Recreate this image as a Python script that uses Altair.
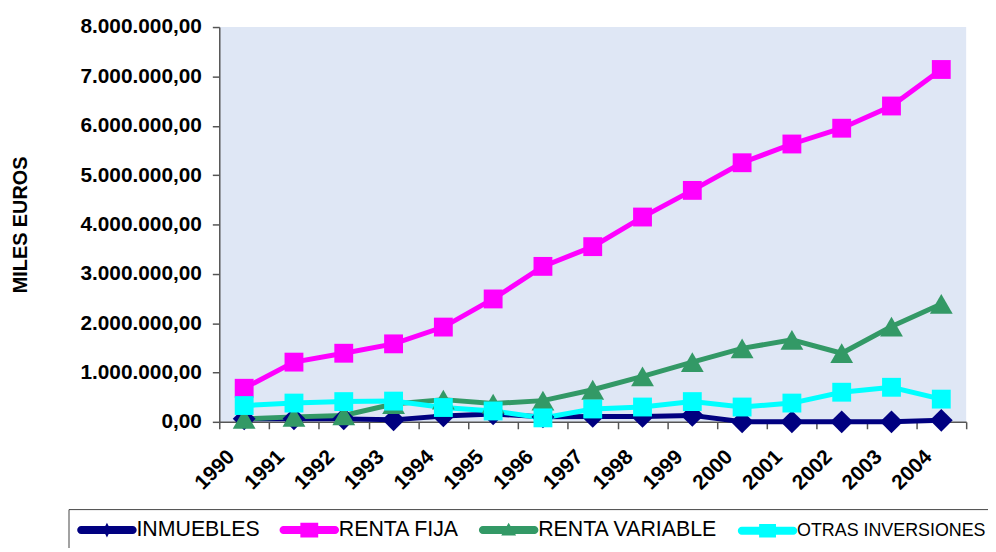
import altair as alt
import pandas as pd

years = [str(y) for y in range(1990, 2005)]
series = ["INMUEBLES", "RENTA FIJA", "RENTA VARIABLE", "OTRAS INVERSIONES"]

# values in thousands of "miles euros"
inmuebles = [60, 60, 60, 40, 120, 160, 100, 110, 110, 130, 0, 0, 0, 0, 30]
renta_fija = [680, 1210, 1390, 1580, 1920, 2490, 3150, 3550, 4150, 4690, 5250, 5630, 5950, 6400, 7140]
renta_variable = [60, 100, 130, 360, 450, 370, 430, 650, 920, 1210, 1490, 1660, 1390, 1930, 2390]
otras = [330, 380, 410, 420, 290, 220, 80, 260, 300, 410, 300, 380, 600, 700, 460]

y_ticks = [0, 1000000, 2000000, 3000000, 4000000, 5000000, 6000000, 7000000, 8000000]

colors = ["#000080", "#FF00FF", "#339966", "#00FFFF"]
marker_shapes = ["diamond", "square", "triangle-up", "square"]
marker_sizes = [529, 361, 529, 361]

line_part = "M-5.2,-0.8 L5.2,-0.8 A0.8,0.8 0 0 1 5.2,0.8 L-5.2,0.8 A0.8,0.8 0 0 1 -5.2,-0.8 Z "
legend_paths = [
    line_part + "M0,-1.5 L0.75,0 L0,1.5 L-0.75,0 Z",
    line_part + "M-1.8,-1.5 L1.8,-1.5 L1.8,1.5 L-1.8,1.5 Z",
    line_part + "M0,-1.5 L1.5,1.1 L-1.5,1.1 Z",
    line_part + "M-1.7,-1.35 L1.7,-1.35 L1.7,1.35 L-1.7,1.35 Z",
]

rows = []
for name, vals in zip(series, [inmuebles, renta_fija, renta_variable, otras]):
    for yr, v in zip(years, vals):
        rows.append({"year": yr, "value": v * 1000, "serie": name})
df = pd.DataFrame(rows)

FONT = "Liberation Sans"
AXCOL = "#555555"

x_enc = alt.X(
    "year:O",
    scale=alt.Scale(type="band", paddingInner=0, paddingOuter=0, domain=years),
    axis=alt.Axis(
        title=None, labelAngle=-45, tickBand="extent", grid=False,
        labelFont=FONT, labelFontSize=21, labelFontWeight="bold", labelColor="black",
        labelPadding=17, labelOffset=-21, labelOverlap=False, labelFlush=False,
        domainColor=AXCOL, domainWidth=1.5, tickColor=AXCOL, tickWidth=1.5, tickSize=7,
    ),
)
y_enc = alt.Y(
    "value:Q",
    scale=alt.Scale(domain=[0, 8000000], nice=False),
    axis=alt.Axis(
        title="MILES EUROS", values=y_ticks, format=",.2f", grid=False,
        labelFont=FONT, labelFontSize=21, labelFontWeight="bold", labelColor="black",
        labelPadding=11,
        domainColor=AXCOL, domainWidth=1.5, tickColor=AXCOL, tickWidth=1.5, tickSize=7,
        titleFont=FONT, titleFontSize=20, titleFontWeight="bold", titleColor="black",
        titleX=-200, titleY=199, titleAngle=270, titleAlign="center", titleBaseline="middle",
    ),
)

base = alt.Chart(df)

line_layers = []
point_layers = []
for name, col, shp, sz in zip(series, colors, marker_shapes, marker_sizes):
    sub = base.transform_filter(alt.datum.serie == name)
    line_layers.append(sub.mark_line(strokeWidth=5, color=col).encode(x=x_enc, y=y_enc))
    point_layers.append(
        sub.mark_point(filled=True, opacity=1, shape=shp, size=sz, color=col, strokeWidth=0)
        .encode(x=x_enc, y=y_enc)
    )

leg = alt.Legend(
    title=None, orient="none", legendX=-152, legendY=486, direction="horizontal",
    strokeColor="#444444", fillColor="white", padding=10,
    symbolSize=100, symbolOffset=18, symbolStrokeWidth=0, symbolOpacity=1,
    labelOffset=19, labelFont=FONT, labelColor="black", labelLimit=400,
    labelFontSize=alt.ExprRef(expr="datum.label == 'OTRAS INVERSIONES' ? 18 : 21.5"),
    columnPadding=19,
)

legend_layer = base.mark_point(filled=True, opacity=0).encode(
    x=x_enc, y=y_enc,
    color=alt.Color("serie:N", scale=alt.Scale(domain=series, range=colors), legend=leg),
    shape=alt.Shape("serie:N", scale=alt.Scale(domain=series, range=legend_paths), legend=leg),
)

chart = alt.layer(*line_layers, *point_layers, legend_layer).properties(
    width=753, height=398,
    autosize="none",
    padding={"left": 213, "top": 17, "right": 22, "bottom": 125},
).configure(
    locale={"number": {"decimal": ",", "thousands": ".", "grouping": [3], "currency": ["", " €"]}},
).configure_view(
    fill="#dfe7f5", stroke=None,
)

chart.save("out.html", embed_options={"renderer": "svg", "actions": False})
